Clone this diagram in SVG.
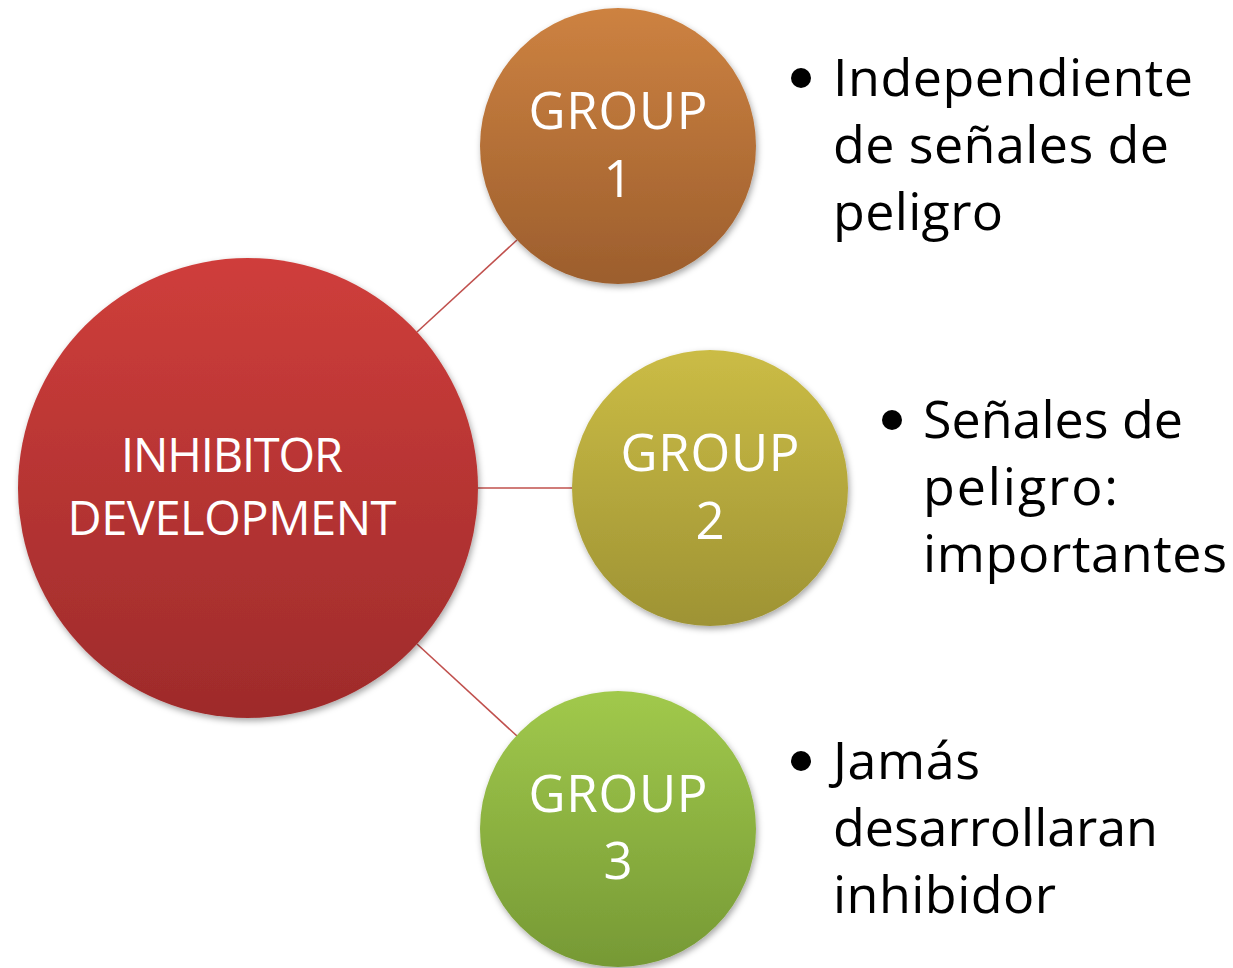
<svg xmlns="http://www.w3.org/2000/svg" width="1233" height="968" viewBox="0 0 1233 968">
<style>
.lbl{font-family:"Open Sans","Liberation Sans",sans-serif;fill:#ffffff;text-anchor:middle}
.bul{font-family:"Open Sans","Liberation Sans",sans-serif;fill:#000000;font-size:52px}
.conn{stroke:#C0504D;stroke-width:1.6;fill:none}
</style>
<defs>
<linearGradient id="gRed" x1="0" y1="0" x2="0" y2="1"><stop offset="0" stop-color="#CF3E3B"/><stop offset="1" stop-color="#9E2B2B"/></linearGradient>
<linearGradient id="gOrange" x1="0" y1="0" x2="0" y2="1"><stop offset="0" stop-color="#CD8241"/><stop offset="1" stop-color="#9C5E2D"/></linearGradient>
<linearGradient id="gYellow" x1="0" y1="0" x2="0" y2="1"><stop offset="0" stop-color="#CBBC45"/><stop offset="1" stop-color="#9E9334"/></linearGradient>
<linearGradient id="gGreen" x1="0" y1="0" x2="0" y2="1"><stop offset="0" stop-color="#A1C94C"/><stop offset="1" stop-color="#769935"/></linearGradient>
<filter id="sh" x="-10%" y="-10%" width="125%" height="125%"><feDropShadow dx="1.5" dy="3" stdDeviation="3" flood-color="#000" flood-opacity="0.35"/></filter>
</defs>
<rect width="1233" height="968" fill="#ffffff"/>
<g id="connectors">
<line class="conn" x1="417" y1="332" x2="517" y2="240"/>
<line class="conn" x1="478" y1="488" x2="572" y2="488"/>
<line class="conn" x1="417" y1="644" x2="517" y2="736"/>
</g>
<g id="node-inhibitor">
<circle cx="248" cy="488" r="230" fill="url(#gRed)" filter="url(#sh)"/>
<text class="lbl" font-size="47" x="232" y="472" textLength="222">INHIBITOR</text>
<text class="lbl" font-size="47" x="232" y="535" textLength="329">DEVELOPMENT</text>
</g>
<g id="node-group1">
<circle cx="618" cy="146" r="138" fill="url(#gOrange)" filter="url(#sh)"/>
<text class="lbl" font-size="51" x="618" y="129" textLength="179">GROUP</text>
<text class="lbl" font-size="51" x="618" y="197">1</text>
</g>
<g id="node-group2">
<circle cx="710" cy="488" r="138" fill="url(#gYellow)" filter="url(#sh)"/>
<text class="lbl" font-size="51" x="710" y="471" textLength="179">GROUP</text>
<text class="lbl" font-size="51" x="710" y="539">2</text>
</g>
<g id="node-group3">
<circle cx="618" cy="829" r="138" fill="url(#gGreen)" filter="url(#sh)"/>
<text class="lbl" font-size="51" x="618" y="812" textLength="179">GROUP</text>
<text class="lbl" font-size="51" x="618" y="879">3</text>
</g>
<g id="text-group1">
<circle cx="801" cy="78" r="10" fill="#000"/>
<text class="bul" x="833" y="96" textLength="360">Independiente</text>
<text class="bul" x="833" y="163" textLength="336">de señales de</text>
<text class="bul" x="833" y="230" textLength="170">peligro</text>
</g>
<g id="text-group2">
<circle cx="892" cy="420" r="10" fill="#000"/>
<text class="bul" x="923" y="438" textLength="260">Señales de</text>
<text class="bul" x="923" y="505" textLength="195">peligro:</text>
<text class="bul" x="923" y="572" textLength="304">importantes</text>
</g>
<g id="text-group3">
<circle cx="801" cy="761" r="10" fill="#000"/>
<text class="bul" x="833" y="779" textLength="147">Jamás</text>
<text class="bul" x="833" y="846" textLength="325">desarrollaran</text>
<text class="bul" x="833" y="913" textLength="223">inhibidor</text>
</g>
</svg>
